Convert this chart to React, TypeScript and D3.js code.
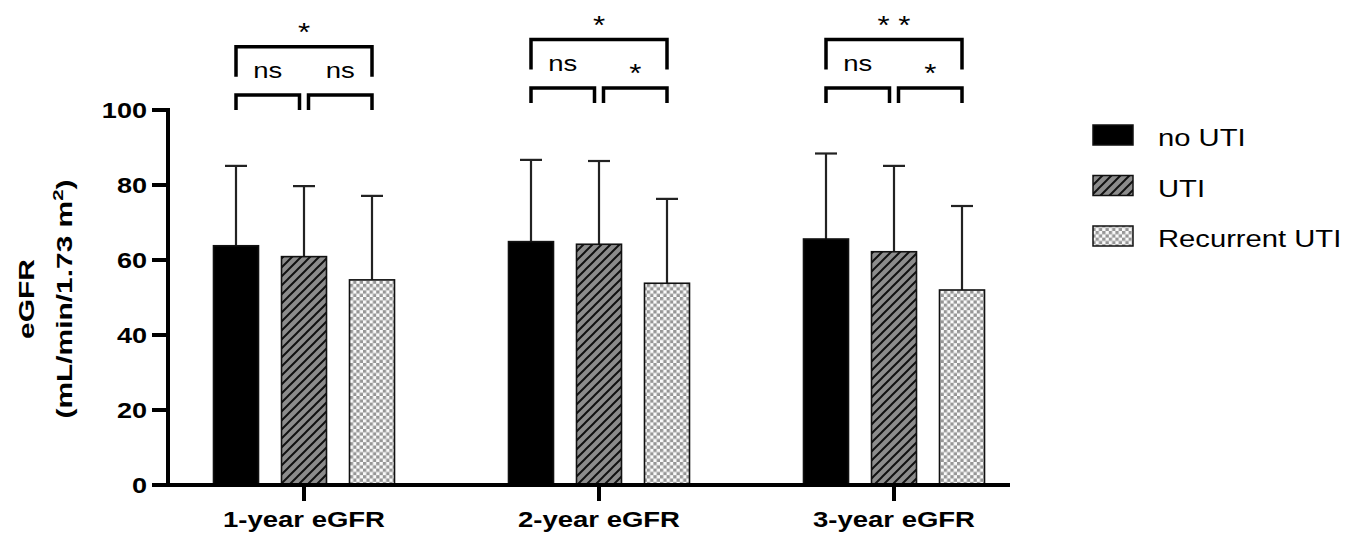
import React from 'react';
import * as d3 from 'd3';

// values
const groups = ['1-year eGFR', '2-year eGFR', '3-year eGFR'];
const series = ['no UTI', 'UTI', 'Recurrent UTI'];
const means = [
  [63.8, 60.9, 54.7],
  [64.9, 64.2, 53.8],
  [65.6, 62.2, 52.0],
];
const sds = [
  [21.3, 18.8, 22.4],
  [21.8, 22.2, 22.5],
  [22.8, 22.9, 22.4],
];
const yTicks = [0, 20, 40, 60, 80, 100];

// significance brackets: group index, from series, to series, bracket level (eGFR units), label
const brackets = [
  { g: 0, a: 0, b: 1, level: 104.0, drop: 4, label: 'ns' },
  { g: 0, a: 1, b: 2, level: 104.0, drop: 4, label: 'ns' },
  { g: 0, a: 0, b: 2, level: 116.9, drop: 8, label: '*' },
  { g: 1, a: 0, b: 1, level: 105.9, drop: 4, label: 'ns' },
  { g: 1, a: 1, b: 2, level: 105.9, drop: 4, label: '*' },
  { g: 1, a: 0, b: 2, level: 118.8, drop: 8, label: '*' },
  { g: 2, a: 0, b: 1, level: 105.9, drop: 4, label: 'ns' },
  { g: 2, a: 1, b: 2, level: 105.9, drop: 4, label: '*' },
  { g: 2, a: 0, b: 2, level: 118.8, drop: 8, label: '* *' },
];

const W = 1363;
const H = 539;
const fills = ['#000', 'url(#hatch)', 'url(#check)'];
const SX = 1.25; // text in the figure is drawn horizontally stretched
const font = '"Liberation Sans", Arial, sans-serif';

export default function App() {
  const y = d3.scaleLinear().domain([0, 100]).range([485, 110]);
  const x0 = d3.scaleBand().domain(groups).range([156.5, 1041.5]).padding(0);
  const x1 = d3.scaleBand().domain(series).range([-90.5, 90.5]).paddingInner(23 / 68).paddingOuter(0);
  const bw = x1.bandwidth();
  const axisX = 168;
  const axisEnd = 1010;

  const cx = (g: number, s: number) =>
    (x0(groups[g]) as number) + x0.bandwidth() / 2 + (x1(series[s]) as number) + bw / 2;

  return (
    <svg width={W} height={H} style={{ position: 'absolute', left: 0, top: 0, background: '#fff' }} fontFamily={font}>
      <defs>
        <pattern id="hatch" patternUnits="userSpaceOnUse" width={9} height={9}>
          <rect width={9} height={9} fill="#8c8c8c" />
          <path d="M-1,1 l2,-2 M0,9 l9,-9 M8,10 l2,-2" stroke="#111" strokeWidth={2} />
        </pattern>
        <pattern id="check" patternUnits="userSpaceOnUse" width={6.6} height={6.6}>
          <rect width={6.6} height={6.6} fill="#fafafa" />
          <rect width={3.3} height={3.3} fill="#969696" />
          <rect x={3.3} y={3.3} width={3.3} height={3.3} fill="#969696" />
        </pattern>
      </defs>

      {/* bars + error bars */}
      {groups.map((g, gi) =>
        series.map((s, si) => {
          const c = cx(gi, si);
          const top = y(means[gi][si]);
          const errTop = y(means[gi][si] + sds[gi][si]);
          return (
            <g key={g + s}>
              <line x1={c} x2={c} y1={top} y2={errTop} stroke="#222" strokeWidth={2.2} />
              <line x1={c - 11} x2={c + 11} y1={errTop} y2={errTop} stroke="#222" strokeWidth={2.2} />
              <rect x={c - bw / 2} y={top} width={bw} height={y(0) - top} fill={fills[si]} stroke="#111" strokeWidth={1.6} />
            </g>
          );
        })
      )}

      {/* axes */}
      <line x1={axisX} x2={axisX} y1={y(100) - 2} y2={y(0) + 2} stroke="#000" strokeWidth={4} />
      <line x1={axisX - 2} x2={axisEnd} y1={y(0)} y2={y(0)} stroke="#000" strokeWidth={4} />
      {yTicks.map(t => (
        <g key={t}>
          <line x1={152} x2={axisX} y1={y(t)} y2={y(t)} stroke="#000" strokeWidth={4} />
          <text
            transform={`translate(147,${y(t) + 8}) scale(1.23,1)`}
            textAnchor="end"
            fontSize={22}
            fontWeight="bold"
          >
            {t}
          </text>
        </g>
      ))}
      {groups.map(g => {
        const c = (x0(g) as number) + x0.bandwidth() / 2;
        return (
          <g key={g}>
            <line x1={c} x2={c} y1={y(0)} y2={y(0) + 16} stroke="#000" strokeWidth={4} />
            <text transform={`translate(${c},527) scale(${SX},1)`} textAnchor="middle" fontSize={22} fontWeight="bold">
              {g}
            </text>
          </g>
        );
      })}

      {/* y axis title */}
      <text transform={`translate(34,299) rotate(-90) scale(1.36,1)`} textAnchor="middle" fontSize={22} fontWeight="bold">
        eGFR
      </text>
      <text transform={`translate(72,299) rotate(-90) scale(1.36,1)`} textAnchor="middle" fontSize={22} fontWeight="bold">
        <tspan>(mL/min/1.73 m</tspan>
        <tspan fontSize={15} dy={-9}>2</tspan>
        <tspan dy={9}>)</tspan>
      </text>

      {/* significance brackets */}
      {brackets.map((b, i) => {
        const xa = cx(b.g, b.a) + (b.b - b.a === 1 && b.a === 1 ? 4.5 : 0);
        const xb = cx(b.g, b.b) - (b.b - b.a === 1 && b.a === 0 ? 4.5 : 0);
        const yl = y(b.level);
        const yd = y(b.level - b.drop);
        const mid = (xa + xb) / 2;
        const isStar = b.label.includes('*');
        return (
          <g key={i}>
            <path d={`M${xa},${yd} V${yl} H${xb} V${yd}`} fill="none" stroke="#000" strokeWidth={3.5} />
            <text
              transform={`translate(${mid},${isStar ? yl - 6 : yl - 17}) scale(${SX},1)`}
              textAnchor="middle"
              fontSize={isStar ? 25 : 22}
            >
              {b.label}
            </text>
          </g>
        );
      })}

      {/* legend */}
      {series.map((s, si) => {
        const cy = 135 + si * 50.5;
        return (
          <g key={s}>
            <rect x={1093} y={cy - 10} width={40} height={20} fill={fills[si]} stroke="#111" strokeWidth={1.5} />
            <text transform={`translate(1158,${cy + 11}) scale(1.27,1)`} fontSize={23}>
              {s}
            </text>
          </g>
        );
      })}
    </svg>
  );
}
